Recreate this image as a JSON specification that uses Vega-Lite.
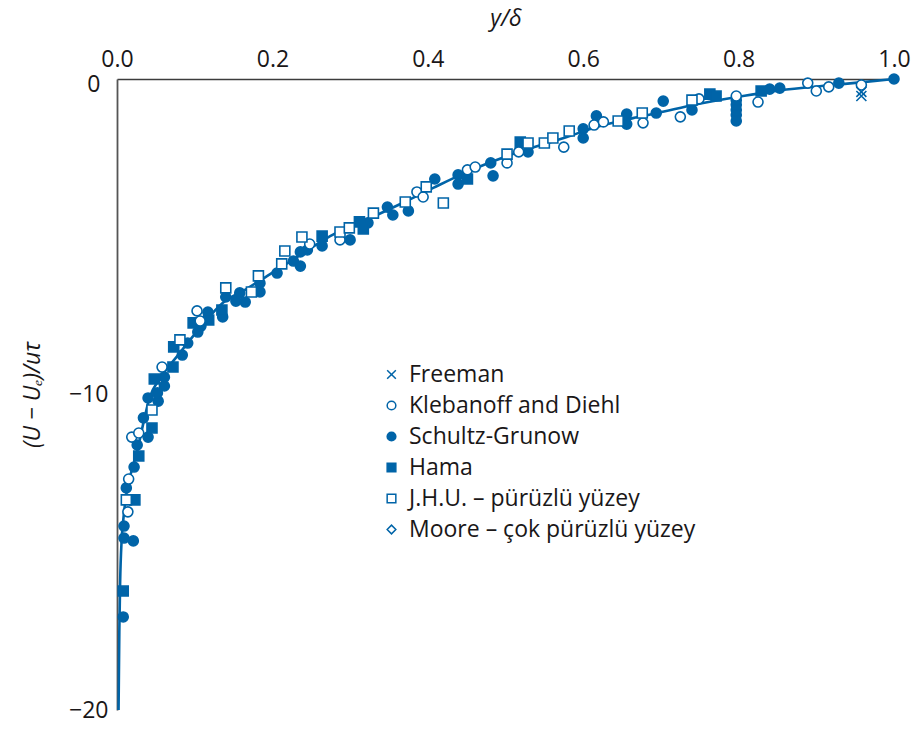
{
  "$schema": "https://vega.github.io/schema/vega-lite/v6.json",
  "width": 777,
  "height": 631,
  "autosize": {"type": "none"},
  "padding": {"left": 117, "top": 79, "right": 20, "bottom": 28},
  "background": "white",
  "config": {
    "view": {"stroke": null},
    "font": "Open Sans",
    "legend": {
      "orient": "none",
      "legendX": 263,
      "legendY": 284,
      "labelFont": "Open Sans",
      "labelFontSize": 23,
      "labelColor": "#1a1718",
      "labelLimit": 500,
      "symbolSize": 75,
      "symbolStrokeWidth": 1.5,
      "rowPadding": 7,
      "labelOffset": 6
    }
  },
  "datasets": {
    "curve": [
      {"yd": 0.002, "defect": -20.0},
      {"yd": 0.003, "defect": -17.5},
      {"yd": 0.004, "defect": -16.0},
      {"yd": 0.006, "defect": -14.6},
      {"yd": 0.008, "defect": -14.0},
      {"yd": 0.013, "defect": -13.0},
      {"yd": 0.019, "defect": -12.4},
      {"yd": 0.027, "defect": -11.7},
      {"yd": 0.034, "defect": -10.9},
      {"yd": 0.042, "defect": -10.1},
      {"yd": 0.055, "defect": -9.5},
      {"yd": 0.077, "defect": -8.8},
      {"yd": 0.103, "defect": -8.0},
      {"yd": 0.136, "defect": -7.1},
      {"yd": 0.167, "defect": -6.65},
      {"yd": 0.193, "defect": -6.25},
      {"yd": 0.223, "defect": -5.78},
      {"yd": 0.25, "defect": -5.35},
      {"yd": 0.278, "defect": -4.93},
      {"yd": 0.322, "defect": -4.45},
      {"yd": 0.364, "defect": -3.97},
      {"yd": 0.407, "defect": -3.45},
      {"yd": 0.45, "defect": -2.95},
      {"yd": 0.506, "defect": -2.41},
      {"yd": 0.579, "defect": -1.84},
      {"yd": 0.613, "defect": -1.55},
      {"yd": 0.664, "defect": -1.24},
      {"yd": 0.695, "defect": -1.08},
      {"yd": 0.746, "defect": -0.8},
      {"yd": 0.798, "defect": -0.57},
      {"yd": 0.853, "defect": -0.36},
      {"yd": 0.918, "defect": -0.2},
      {"yd": 0.96, "defect": -0.1},
      {"yd": 1.0, "defect": 0.0}
    ],
    "obs": [
      {"source": "Schultz-Grunow", "yd": 0.008, "defect": -17.05},
      {"source": "Schultz-Grunow", "yd": 0.009, "defect": -14.55},
      {"source": "Schultz-Grunow", "yd": 0.021, "defect": -14.64},
      {"source": "Schultz-Grunow", "yd": 0.009, "defect": -14.17},
      {"source": "Schultz-Grunow", "yd": 0.012, "defect": -12.96},
      {"source": "Schultz-Grunow", "yd": 0.022, "defect": -12.3},
      {"source": "Schultz-Grunow", "yd": 0.026, "defect": -11.6},
      {"source": "Schultz-Grunow", "yd": 0.04, "defect": -11.35},
      {"source": "Schultz-Grunow", "yd": 0.034, "defect": -10.74},
      {"source": "Schultz-Grunow", "yd": 0.04, "defect": -10.11},
      {"source": "Schultz-Grunow", "yd": 0.053, "defect": -10.21},
      {"source": "Schultz-Grunow", "yd": 0.052, "defect": -9.95},
      {"source": "Schultz-Grunow", "yd": 0.061, "defect": -9.73},
      {"source": "Schultz-Grunow", "yd": 0.061, "defect": -9.45},
      {"source": "Schultz-Grunow", "yd": 0.084, "defect": -8.75},
      {"source": "Schultz-Grunow", "yd": 0.091, "defect": -8.37},
      {"source": "Schultz-Grunow", "yd": 0.104, "defect": -8.02},
      {"source": "Schultz-Grunow", "yd": 0.108, "defect": -7.83},
      {"source": "Schultz-Grunow", "yd": 0.117, "defect": -7.39},
      {"source": "Schultz-Grunow", "yd": 0.136, "defect": -7.54},
      {"source": "Schultz-Grunow", "yd": 0.14, "defect": -6.91},
      {"source": "Schultz-Grunow", "yd": 0.153, "defect": -7.04},
      {"source": "Schultz-Grunow", "yd": 0.158, "defect": -6.78},
      {"source": "Schultz-Grunow", "yd": 0.165, "defect": -7.07},
      {"source": "Schultz-Grunow", "yd": 0.184, "defect": -6.47},
      {"source": "Schultz-Grunow", "yd": 0.184, "defect": -6.75},
      {"source": "Schultz-Grunow", "yd": 0.206, "defect": -6.15},
      {"source": "Schultz-Grunow", "yd": 0.227, "defect": -5.77},
      {"source": "Schultz-Grunow", "yd": 0.236, "defect": -5.93},
      {"source": "Schultz-Grunow", "yd": 0.236, "defect": -5.48},
      {"source": "Schultz-Grunow", "yd": 0.245, "defect": -5.42},
      {"source": "Schultz-Grunow", "yd": 0.264, "defect": -5.29},
      {"source": "Schultz-Grunow", "yd": 0.3, "defect": -5.1},
      {"source": "Schultz-Grunow", "yd": 0.323, "defect": -4.56},
      {"source": "Schultz-Grunow", "yd": 0.348, "defect": -4.06},
      {"source": "Schultz-Grunow", "yd": 0.355, "defect": -4.31},
      {"source": "Schultz-Grunow", "yd": 0.375, "defect": -4.18},
      {"source": "Schultz-Grunow", "yd": 0.409, "defect": -3.17},
      {"source": "Schultz-Grunow", "yd": 0.439, "defect": -3.04},
      {"source": "Schultz-Grunow", "yd": 0.439, "defect": -3.33},
      {"source": "Schultz-Grunow", "yd": 0.481, "defect": -2.66},
      {"source": "Schultz-Grunow", "yd": 0.484, "defect": -3.07},
      {"source": "Schultz-Grunow", "yd": 0.529, "defect": -2.31},
      {"source": "Schultz-Grunow", "yd": 0.6, "defect": -1.58},
      {"source": "Schultz-Grunow", "yd": 0.6, "defect": -1.87},
      {"source": "Schultz-Grunow", "yd": 0.617, "defect": -1.17},
      {"source": "Schultz-Grunow", "yd": 0.656, "defect": -1.11},
      {"source": "Schultz-Grunow", "yd": 0.656, "defect": -1.43},
      {"source": "Schultz-Grunow", "yd": 0.694, "defect": -1.08},
      {"source": "Schultz-Grunow", "yd": 0.703, "defect": -0.7},
      {"source": "Schultz-Grunow", "yd": 0.74, "defect": -0.98},
      {"source": "Schultz-Grunow", "yd": 0.797, "defect": -0.67},
      {"source": "Schultz-Grunow", "yd": 0.797, "defect": -0.82},
      {"source": "Schultz-Grunow", "yd": 0.797, "defect": -0.98},
      {"source": "Schultz-Grunow", "yd": 0.797, "defect": -1.14},
      {"source": "Schultz-Grunow", "yd": 0.797, "defect": -1.33},
      {"source": "Schultz-Grunow", "yd": 0.84, "defect": -0.32},
      {"source": "Schultz-Grunow", "yd": 0.853, "defect": -0.29},
      {"source": "Schultz-Grunow", "yd": 0.929, "defect": -0.13},
      {"source": "Schultz-Grunow", "yd": 1.0, "defect": 0.0},
      {"source": "Hama", "yd": 0.008, "defect": -16.23},
      {"source": "Hama", "yd": 0.023, "defect": -13.34},
      {"source": "Hama", "yd": 0.028, "defect": -11.95},
      {"source": "Hama", "yd": 0.045, "defect": -11.06},
      {"source": "Hama", "yd": 0.048, "defect": -9.51},
      {"source": "Hama", "yd": 0.072, "defect": -9.13},
      {"source": "Hama", "yd": 0.073, "defect": -8.49},
      {"source": "Hama", "yd": 0.098, "defect": -7.73},
      {"source": "Hama", "yd": 0.118, "defect": -7.64},
      {"source": "Hama", "yd": 0.135, "defect": -7.32},
      {"source": "Hama", "yd": 0.264, "defect": -4.98},
      {"source": "Hama", "yd": 0.312, "defect": -4.53},
      {"source": "Hama", "yd": 0.317, "defect": -4.75},
      {"source": "Hama", "yd": 0.451, "defect": -3.17},
      {"source": "Hama", "yd": 0.519, "defect": -2.0},
      {"source": "Hama", "yd": 0.763, "defect": -0.48},
      {"source": "Hama", "yd": 0.771, "defect": -0.54},
      {"source": "Hama", "yd": 0.829, "defect": -0.38},
      {"source": "Klebanoff and Diehl", "yd": 0.014, "defect": -13.72},
      {"source": "Klebanoff and Diehl", "yd": 0.015, "defect": -12.68},
      {"source": "Klebanoff and Diehl", "yd": 0.019, "defect": -11.35},
      {"source": "Klebanoff and Diehl", "yd": 0.028, "defect": -11.22},
      {"source": "Klebanoff and Diehl", "yd": 0.058, "defect": -9.13},
      {"source": "Klebanoff and Diehl", "yd": 0.103, "defect": -7.35},
      {"source": "Klebanoff and Diehl", "yd": 0.107, "defect": -7.67},
      {"source": "Klebanoff and Diehl", "yd": 0.248, "defect": -5.23},
      {"source": "Klebanoff and Diehl", "yd": 0.287, "defect": -5.1},
      {"source": "Klebanoff and Diehl", "yd": 0.386, "defect": -3.58},
      {"source": "Klebanoff and Diehl", "yd": 0.394, "defect": -3.74},
      {"source": "Klebanoff and Diehl", "yd": 0.451, "defect": -2.88},
      {"source": "Klebanoff and Diehl", "yd": 0.461, "defect": -2.79},
      {"source": "Klebanoff and Diehl", "yd": 0.502, "defect": -2.66},
      {"source": "Klebanoff and Diehl", "yd": 0.517, "defect": -2.31},
      {"source": "Klebanoff and Diehl", "yd": 0.575, "defect": -2.16},
      {"source": "Klebanoff and Diehl", "yd": 0.614, "defect": -1.46},
      {"source": "Klebanoff and Diehl", "yd": 0.626, "defect": -1.36},
      {"source": "Klebanoff and Diehl", "yd": 0.677, "defect": -1.39},
      {"source": "Klebanoff and Diehl", "yd": 0.725, "defect": -1.2},
      {"source": "Klebanoff and Diehl", "yd": 0.749, "defect": -0.63},
      {"source": "Klebanoff and Diehl", "yd": 0.797, "defect": -0.54},
      {"source": "Klebanoff and Diehl", "yd": 0.825, "defect": -0.73},
      {"source": "Klebanoff and Diehl", "yd": 0.889, "defect": -0.13},
      {"source": "Klebanoff and Diehl", "yd": 0.9, "defect": -0.38},
      {"source": "Klebanoff and Diehl", "yd": 0.916, "defect": -0.25},
      {"source": "Klebanoff and Diehl", "yd": 0.958, "defect": -0.19},
      {"source": "J.H.U. – pürüzlü yüzey", "yd": 0.012, "defect": -13.34},
      {"source": "J.H.U. – pürüzlü yüzey", "yd": 0.045, "defect": -10.49},
      {"source": "J.H.U. – pürüzlü yüzey", "yd": 0.081, "defect": -8.27},
      {"source": "J.H.U. – pürüzlü yüzey", "yd": 0.14, "defect": -6.62},
      {"source": "J.H.U. – pürüzlü yüzey", "yd": 0.173, "defect": -6.75},
      {"source": "J.H.U. – pürüzlü yüzey", "yd": 0.182, "defect": -6.24},
      {"source": "J.H.U. – pürüzlü yüzey", "yd": 0.212, "defect": -5.86},
      {"source": "J.H.U. – pürüzlü yüzey", "yd": 0.216, "defect": -5.45},
      {"source": "J.H.U. – pürüzlü yüzey", "yd": 0.238, "defect": -5.01},
      {"source": "J.H.U. – pürüzlü yüzey", "yd": 0.287, "defect": -4.85},
      {"source": "J.H.U. – pürüzlü yüzey", "yd": 0.299, "defect": -4.72},
      {"source": "J.H.U. – pürüzlü yüzey", "yd": 0.33, "defect": -4.25},
      {"source": "J.H.U. – pürüzlü yüzey", "yd": 0.371, "defect": -3.9},
      {"source": "J.H.U. – pürüzlü yüzey", "yd": 0.398, "defect": -3.42},
      {"source": "J.H.U. – pürüzlü yüzey", "yd": 0.42, "defect": -3.93},
      {"source": "J.H.U. – pürüzlü yüzey", "yd": 0.502, "defect": -2.38},
      {"source": "J.H.U. – pürüzlü yüzey", "yd": 0.529, "defect": -2.03},
      {"source": "J.H.U. – pürüzlü yüzey", "yd": 0.55, "defect": -2.03},
      {"source": "J.H.U. – pürüzlü yüzey", "yd": 0.561, "defect": -1.87},
      {"source": "J.H.U. – pürüzlü yüzey", "yd": 0.582, "defect": -1.65},
      {"source": "J.H.U. – pürüzlü yüzey", "yd": 0.645, "defect": -1.33},
      {"source": "J.H.U. – pürüzlü yüzey", "yd": 0.676, "defect": -1.08},
      {"source": "J.H.U. – pürüzlü yüzey", "yd": 0.74, "defect": -0.67},
      {"source": "Freeman", "yd": 0.958, "defect": -0.41},
      {"source": "Freeman", "yd": 0.958, "defect": -0.54}
    ]
  },
  "layer": [
    {
      "data": {"name": "curve"},
      "mark": {"type": "line", "color": "#0064a8", "strokeWidth": 2.6, "interpolate": "monotone"},
      "encoding": {
        "x": {
          "field": "yd", "type": "quantitative",
          "scale": {"domain": [0, 1], "nice": false, "zero": false},
          "axis": {
            "orient": "top", "values": [0, 0.2, 0.4, 0.6, 0.8, 1], "format": ".1f",
            "title": "y/δ", "titleFont": "Open Sans", "titleFontStyle": "italic", "titleFontWeight": "normal",
            "titleFontSize": 23, "titleColor": "#1a1718", "titlePadding": 18,
            "labelFont": "Open Sans", "labelFontSize": 23, "labelColor": "#1a1718", "labelPadding": 13,
            "labelBaseline": "alphabetic",
            "labelFlush": false, "labelOverlap": false,
            "ticks": false, "tickSize": 0, "grid": false,
            "domainColor": "#3c3c3c", "domainWidth": 1.6
          }
        },
        "y": {
          "field": "defect", "type": "quantitative",
          "scale": {"domain": [-20, 0], "nice": false, "zero": false},
          "axis": {
            "orient": "left", "values": [0, -10, -20],
            "title": "(U − Uₑ)/uτ", "titleFont": "Open Sans", "titleFontStyle": "italic", "titleFontWeight": "normal",
            "titleFontSize": 23, "titleColor": "#1a1718", "titlePadding": 24,
            "labelFont": "Open Sans", "labelFontSize": 23, "labelColor": "#1a1718",
            "labelPadding": {"condition": {"test": "datum.value === 0", "value": 17}, "value": 9},
            "labelOffset": {"condition": {"test": "datum.value === 0", "value": 5}, "value": 0},
            "labelFlush": false, "labelOverlap": false,
            "ticks": false, "tickSize": 0, "grid": false,
            "domainColor": "#555555", "domainWidth": 1.8
          }
        }
      }
    },
    {
      "data": {"name": "obs"},
      "mark": {"type": "point", "size": 100, "strokeWidth": 1.6, "opacity": 1},
      "encoding": {
        "x": {"field": "yd", "type": "quantitative"},
        "y": {"field": "defect", "type": "quantitative"},
        "shape": {
          "field": "source", "type": "nominal",
          "scale": {
            "domain": ["Freeman", "Klebanoff and Diehl", "Schultz-Grunow", "Hama", "J.H.U. – pürüzlü yüzey", "Moore – çok pürüzlü yüzey"],
            "range": ["M-1,-1L1,1M1,-1L-1,1", "circle", "circle", "square", "square", "diamond"]
          },
          "legend": {"title": null}
        },
        "fill": {
          "field": "source", "type": "nominal",
          "scale": {
            "domain": ["Freeman", "Klebanoff and Diehl", "Schultz-Grunow", "Hama", "J.H.U. – pürüzlü yüzey", "Moore – çok pürüzlü yüzey"],
            "range": ["transparent", "white", "#0064a8", "#0064a8", "white", "white"]
          },
          "legend": {"title": null}
        },
        "stroke": {
          "field": "source", "type": "nominal",
          "scale": {
            "domain": ["Freeman", "Klebanoff and Diehl", "Schultz-Grunow", "Hama", "J.H.U. – pürüzlü yüzey", "Moore – çok pürüzlü yüzey"],
            "range": ["#0064a8", "#0064a8", "#0064a8", "#0064a8", "#0064a8", "#0064a8"]
          },
          "legend": {"title": null}
        }
      }
    }
  ]
}
